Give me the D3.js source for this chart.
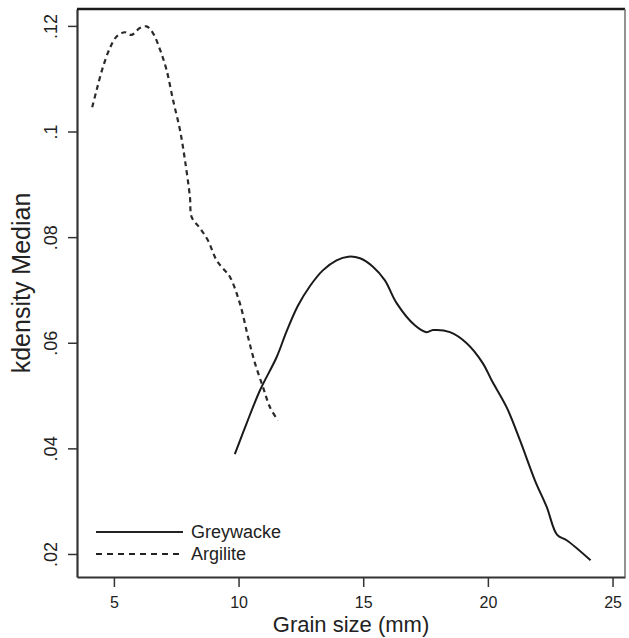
<!DOCTYPE html>
<html lang="en">
<head>
	<meta charset="UTF-8">
	<title>kdensity Median by grain size</title>
	<script src="https://d3js.org/d3.v7.min.js"></script>
	<style>
		body { margin: 0; background: #fff; }
		svg { display: block; font-family: "Liberation Sans", Arial, sans-serif; }
	</style>
</head>
<body>
	<div id="chart"></div>
	<script>
		// values
		const greywackeX = [9.85, 10.32, 10.86, 11.53, 11.93, 12.38, 12.86, 13.38, 13.93, 14.40, 14.87, 15.39, 15.87, 16.34, 17.07, 17.54, 17.80, 18.48, 19.15, 19.80, 20.15, 20.75, 21.29, 21.89, 22.36, 22.78, 23.16, 24.12];
		const greywackeY = [0.0389, 0.0447, 0.0510, 0.0573, 0.0622, 0.0670, 0.0707, 0.0737, 0.0756, 0.0763, 0.0760, 0.0744, 0.0718, 0.0675, 0.0633, 0.0620, 0.0624, 0.0620, 0.0599, 0.0561, 0.0529, 0.0478, 0.0415, 0.0339, 0.0289, 0.0236, 0.0226, 0.0188];
		const argiliteX = [4.13, 4.31, 4.56, 4.84, 5.11, 5.44, 5.71, 6.04, 6.31, 6.56, 6.85, 7.11, 7.37, 7.65, 7.85, 8.05, 8.12, 8.45, 8.77, 9.12, 9.37, 9.65, 10.05, 10.38, 10.66, 10.98, 11.26, 11.58];
		const argiliteY = [0.1046, 0.1079, 0.1122, 0.1158, 0.1180, 0.1188, 0.1183, 0.1196, 0.1199, 0.1187, 0.1155, 0.1117, 0.1060, 0.1003, 0.0946, 0.0876, 0.0838, 0.0817, 0.0794, 0.0756, 0.0741, 0.0725, 0.0675, 0.0611, 0.0561, 0.0516, 0.0478, 0.0453];
		const xTicks = [5, 10, 15, 20, 25];
		const yTicks = [0.02, 0.04, 0.06, 0.08, 0.1, 0.12];
		const yTickLabels = [".02", ".04", ".06", ".08", ".1", ".12"];
		const seriesNames = ["Greywacke", "Argilite"];

		const width = 629, height = 638;
		const plotLeft = 77, plotRight = 625, plotTop = 9, plotBottom = 577;

		const x = d3.scaleLinear().domain([3.52, 25.5]).range([plotLeft, plotRight]);
		const y = d3.scaleLinear().domain([0.01564, 0.1232]).range([plotBottom, plotTop]);

		const svg = d3.select("#chart").append("svg")
			.attr("width", width)
			.attr("height", height);

		// x axis
		const xAxis = svg.append("g")
			.attr("transform", `translate(0,${plotBottom})`)
			.call(d3.axisBottom(x).tickValues(xTicks).tickSize(10).tickSizeOuter(0).tickPadding(10).tickFormat(d3.format("d")));
		xAxis.select(".domain").attr("stroke", "#333").attr("stroke-width", 2.2);
		xAxis.selectAll(".tick line").attr("stroke", "#333").attr("stroke-width", 1.5);
		xAxis.selectAll(".tick text").attr("font-size", 16).attr("fill", "#222")
			.attr("font-family", "Liberation Sans, Arial, sans-serif");

		// y axis, labels turned upright like the original
		const yAxis = svg.append("g")
			.attr("transform", `translate(${plotLeft},0)`)
			.call(d3.axisLeft(y).tickValues(yTicks).tickSize(9).tickSizeOuter(0).tickFormat((d, i) => yTickLabels[i]));
		yAxis.select(".domain").attr("stroke", "#333").attr("stroke-width", 2.2);
		yAxis.selectAll(".tick line").attr("stroke", "#333").attr("stroke-width", 1.5);
		yAxis.selectAll(".tick text")
			.attr("x", null).attr("dy", null)
			.attr("transform", "translate(-20,0) rotate(-90)")
			.attr("text-anchor", "middle")
			.attr("font-size", 18).attr("fill", "#222")
			.attr("font-family", "Liberation Sans, Arial, sans-serif");

		// axis titles
		svg.append("text")
			.attr("x", (plotLeft + plotRight) / 2).attr("y", 632)
			.attr("text-anchor", "middle")
			.attr("font-size", 22).attr("fill", "#222")
			.text("Grain size (mm)");
		svg.append("text")
			.attr("transform", `translate(30,${283}) rotate(-90)`)
			.attr("text-anchor", "middle")
			.attr("font-size", 25).attr("fill", "#222")
			.text("kdensity Median");

		const curve = d3.line()
			.x(d => x(d[0]))
			.y(d => y(d[1]))
			.curve(d3.curveCatmullRom.alpha(0.5));

		svg.append("path")
			.datum(d3.zip(greywackeX, greywackeY))
			.attr("d", curve)
			.attr("fill", "none")
			.attr("stroke", "#1a1a1a")
			.attr("stroke-width", 2);

		svg.append("path")
			.datum(d3.zip(argiliteX, argiliteY))
			.attr("d", curve)
			.attr("fill", "none")
			.attr("stroke", "#2a2a2a")
			.attr("stroke-width", 2.2)
			.attr("stroke-dasharray", "5,4");

		// legend
		const legend = svg.append("g");
		seriesNames.forEach((name, i) => {
			const ly = 532 + i * 22;
			legend.append("line")
				.attr("x1", 96).attr("x2", 183)
				.attr("y1", ly).attr("y2", ly)
				.attr("stroke", "#222")
				.attr("stroke-width", 2)
				.attr("stroke-dasharray", i === 1 ? "6,5" : null);
			legend.append("text")
				.attr("x", 191).attr("y", ly + 6)
				.attr("font-size", 18).attr("fill", "#222")
				.text(name);
		});

		// top and right edges of the plot frame (top heavy, right light like the original)
		svg.append("path")
			.attr("d", `M${plotLeft},${plotTop}H${plotRight}`)
			.style("fill", "none")
			.style("stroke", "#1a1a1a")
			.style("stroke-width", "2.4px");
		svg.append("path")
			.attr("d", `M${plotRight},${plotTop}V${plotBottom}`)
			.style("fill", "none")
			.style("stroke", "#666")
			.style("stroke-width", "1.4px");
	</script>
</body>
</html>
